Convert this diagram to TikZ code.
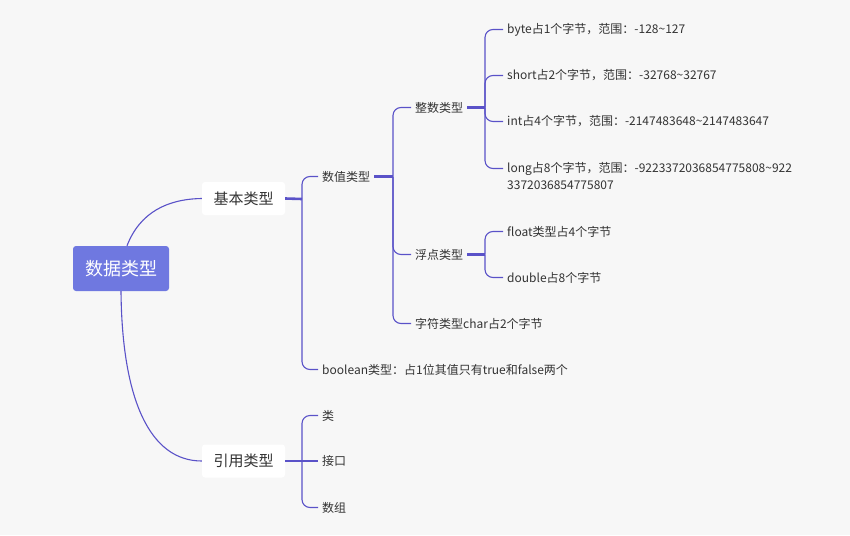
\documentclass[tikz,border=0pt]{standalone}
\usepackage{fontspec}
\newfontfamily\cjk{Noto Sans CJK SC}
\usetikzlibrary{positioning}
\definecolor{bg}{HTML}{F7F7F7}
\definecolor{rootfill}{HTML}{6F78E0}
\definecolor{line}{HTML}{5A52C8}
\definecolor{txt}{HTML}{333333}

\begin{document}
\begin{tikzpicture}[x=1pt, y=-1pt,
	rootbox/.style = {rectangle, fill=rootfill, rounded corners=3pt, minimum width=96pt, minimum height=45pt, text=white, font=\cjk\fontsize{18}{22}\selectfont},
	mainbox/.style = {rectangle, fill=white, rounded corners=3pt, minimum width=83pt, minimum height=33pt, text=txt, font=\cjk\fontsize{15}{18}\selectfont},
	leaf/.style = {anchor=west, inner xsep=4pt, inner ysep=2pt, text=txt, font=\cjk\fontsize{12}{17}\selectfont},
	link/.style = {draw=line, line width=1.1pt, rounded corners=8pt},
	stub/.style = {draw=line, line width=2.6pt}
	]
	
	\fill[bg] (0,0) rectangle (850,535);
	\useasboundingbox (0,0) rectangle (850,535);
	
	%Nodes
	\node[rootbox]	(root)	at	(121, 268.5)	{数据类型};
	\node[mainbox]	(basic)	at	(243.5, 198.5)	{基本类型};
	\node[mainbox]	(ref)	at	(243.5, 461)	{引用类型};
	
	\node[leaf]		(num)	at	(318, 176.5)	{数值类型};
	\node[leaf]		(bool)	at	(318, 369.5)	{boolean类型：占1位其值只有true和false两个};
	
	\node[leaf]		(intg)	at	(411, 107.5)	{整数类型};
	\node[leaf]		(flt)	at	(411, 254.5)	{浮点类型};
	\node[leaf]		(chr)	at	(411, 323.5)	{字符类型char占2个字节};
	
	\node[leaf]		(byte)	at	(503, 29.5)		{byte占1个字节，范围：-128\textasciitilde127};
	\node[leaf]		(short)	at	(503, 75.5)		{short占2个字节，范围：-32768\textasciitilde32767};
	\node[leaf]		(int)	at	(503, 121.5)	{int占4个字节，范围：-2147483648\textasciitilde2147483647};
	\node[leaf, anchor=north west, align=left]	(long)	at	(503, 160.5)
		{long占8个字节，范围：-9223372036854775808\textasciitilde922\\3372036854775807};
	
	\node[leaf]		(float)	at	(503, 231.5)	{float类型占4个字节};
	\node[leaf]		(dbl)	at	(503, 277.5)	{double占8个字节};
	
	\node[leaf]		(cls)	at	(318, 415.5)	{类};
	\node[leaf]		(iface)	at	(318, 461)		{接口};
	\node[leaf]		(arr)	at	(318, 507.5)	{数组};
	
	\coordinate		(j-basic)	at	(302, 199);
	\coordinate		(j-ref)		at	(302, 461);
	\coordinate		(j-num)		at	(393, 176.5);
	\coordinate		(j-intg)	at	(485, 107.5);
	\coordinate		(j-flt)		at	(485, 254.5);
	
	%Lines
	\draw[line, line width=1.1pt]	([xshift=6pt]root.north)	.. controls (140, 212) and (168, 199) ..	(basic.west);
	\draw[line, line width=1.1pt]	(root.south)	.. controls (122, 400) and (150, 461) ..	(ref.west);
	
	\draw[stub]		(basic.east)	--	(j-basic);
	\draw[link]		(j-basic)		|-	(num.west);
	\draw[link]		(j-basic)		|-	(bool.west);
	
	\draw[stub]		(num.east)		--	(j-num);
	\draw[link]		(j-num)			|-	(intg.west);
	\draw[link]		(j-num)			|-	(flt.west);
	\draw[link]		(j-num)			|-	(chr.west);
	
	\draw[stub]		(intg.east)		--	(j-intg);
	\draw[link]		(j-intg)		|-	(byte.west);
	\draw[link]		(j-intg)		|-	(short.west);
	\draw[link]		(j-intg)		|-	(int.west);
	\draw[link]		(j-intg)		|-	([yshift=-8pt]long.north west);
	
	\draw[stub]		(flt.east)		--	(j-flt);
	\draw[link]		(j-flt)			|-	(float.west);
	\draw[link]		(j-flt)			|-	(dbl.west);
	
	\draw[stub]		(ref.east)		--	(j-ref);
	\draw[link]		(j-ref)			|-	(cls.west);
	\draw[link]		(j-ref)			--	(iface.west);
	\draw[link]		(j-ref)			|-	(arr.west);
	
\end{tikzpicture}
\end{document}
